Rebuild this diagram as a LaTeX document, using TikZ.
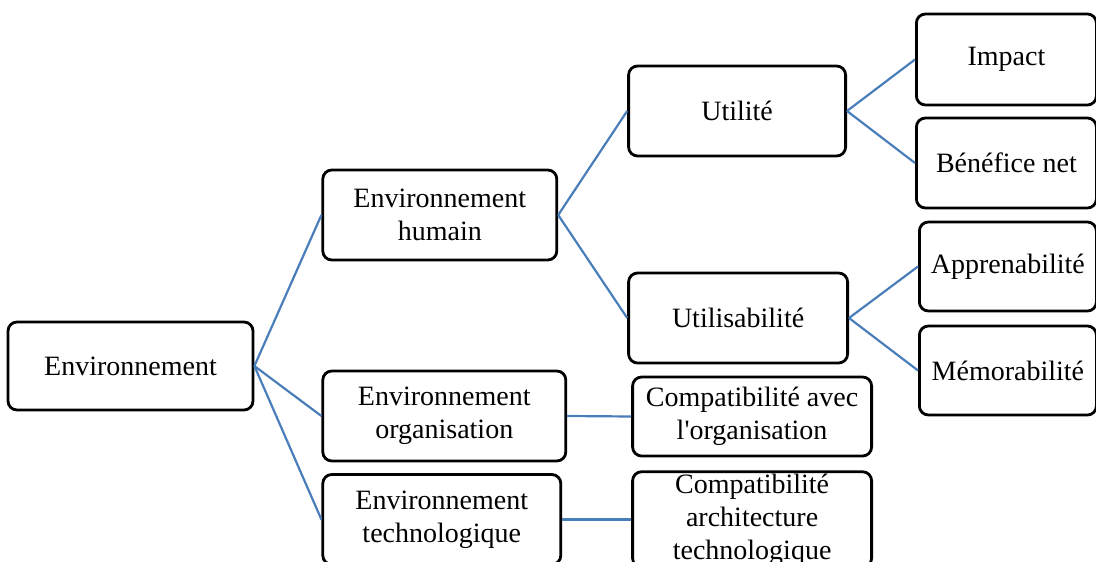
\documentclass[tikz,border=0pt]{standalone}
\usepackage{fontspec}
\setmainfont{Liberation Serif}
\usepackage{tikz}
\usetikzlibrary{positioning}
\definecolor{linkblue}{RGB}{74,126,187}
\tikzstyle{roundbox}=[rectangle,rounded corners=9pt,line width=2.8pt,draw=black,
fill=white,align=center,inner sep=2pt,
font=\fontsize{28}{33}\selectfont]
\tikzstyle{link} = [draw=linkblue,line width=2.2pt]

\begin{document}
\begin{tikzpicture}[x=1pt,y=-1pt]
        \useasboundingbox (0,0) rectangle (1096,562);
        \node[roundbox, minimum width=245pt, minimum height=88pt] (env) at (130.5,366) {Environnement};
        \node[roundbox, right=67pt of env, yshift=151pt, minimum width=234pt, minimum height=90pt] (envhum) {Environnement\\humain};
        \node[roundbox, right=67pt of env, yshift=-50pt, minimum width=243pt, minimum height=90pt] (envorg) {Environnement\\organisation};
        \node[roundbox, right=67pt of env, yshift=-153.5pt, minimum width=238pt, minimum height=90pt] (envtech) {Environnement\\technologique};

        \node[roundbox, right=69pt of envhum, yshift=104pt, minimum width=217pt, minimum height=90pt] (util) {Utilité};
        \node[roundbox, right=69pt of envhum, yshift=-103pt, minimum width=219pt, minimum height=90pt] (usab) {Utilisabilité};

        \node[roundbox, right=68pt of util, yshift=51.5pt, minimum width=180pt, minimum height=91pt] (impact) {Impact};
        \node[roundbox, right=68pt of util, yshift=-52pt, minimum width=180pt, minimum height=90pt] (benef) {Bénéfice net};
        \node[roundbox, right=69pt of usab, yshift=51.5pt, minimum width=177pt, minimum height=89pt] (appren) {Apprenabilité};
        \node[roundbox, right=69pt of usab, yshift=-52.5pt, minimum width=177pt, minimum height=89pt] (memo) {Mémorabilité};

        \node[roundbox, right=64pt of envorg, yshift=-0.5pt, minimum width=239pt, minimum height=79pt] (compatorg) {Compatibilité avec\\l\textquotesingle organisation};
        \node[roundbox, right=69pt of envtech, minimum width=239pt, minimum height=90pt] (compattech) {Compatibilité\\architecture\\technologique};

        \path[link]
            (env.east) edge (envhum.west)
            (env.east) edge (envorg.west)
            (env.east) edge (envtech.west)
            (envhum.east) edge (util.west)
            (envhum.east) edge (usab.west)
            (util.east) edge (impact.west)
            (util.east) edge (benef.west)
            (usab.east) edge (appren.west)
            (usab.east) edge (memo.west)
            (envorg.east) edge (compatorg.west)
            (envtech.east) edge (compattech.west);
    \end{tikzpicture}
\end{document}
